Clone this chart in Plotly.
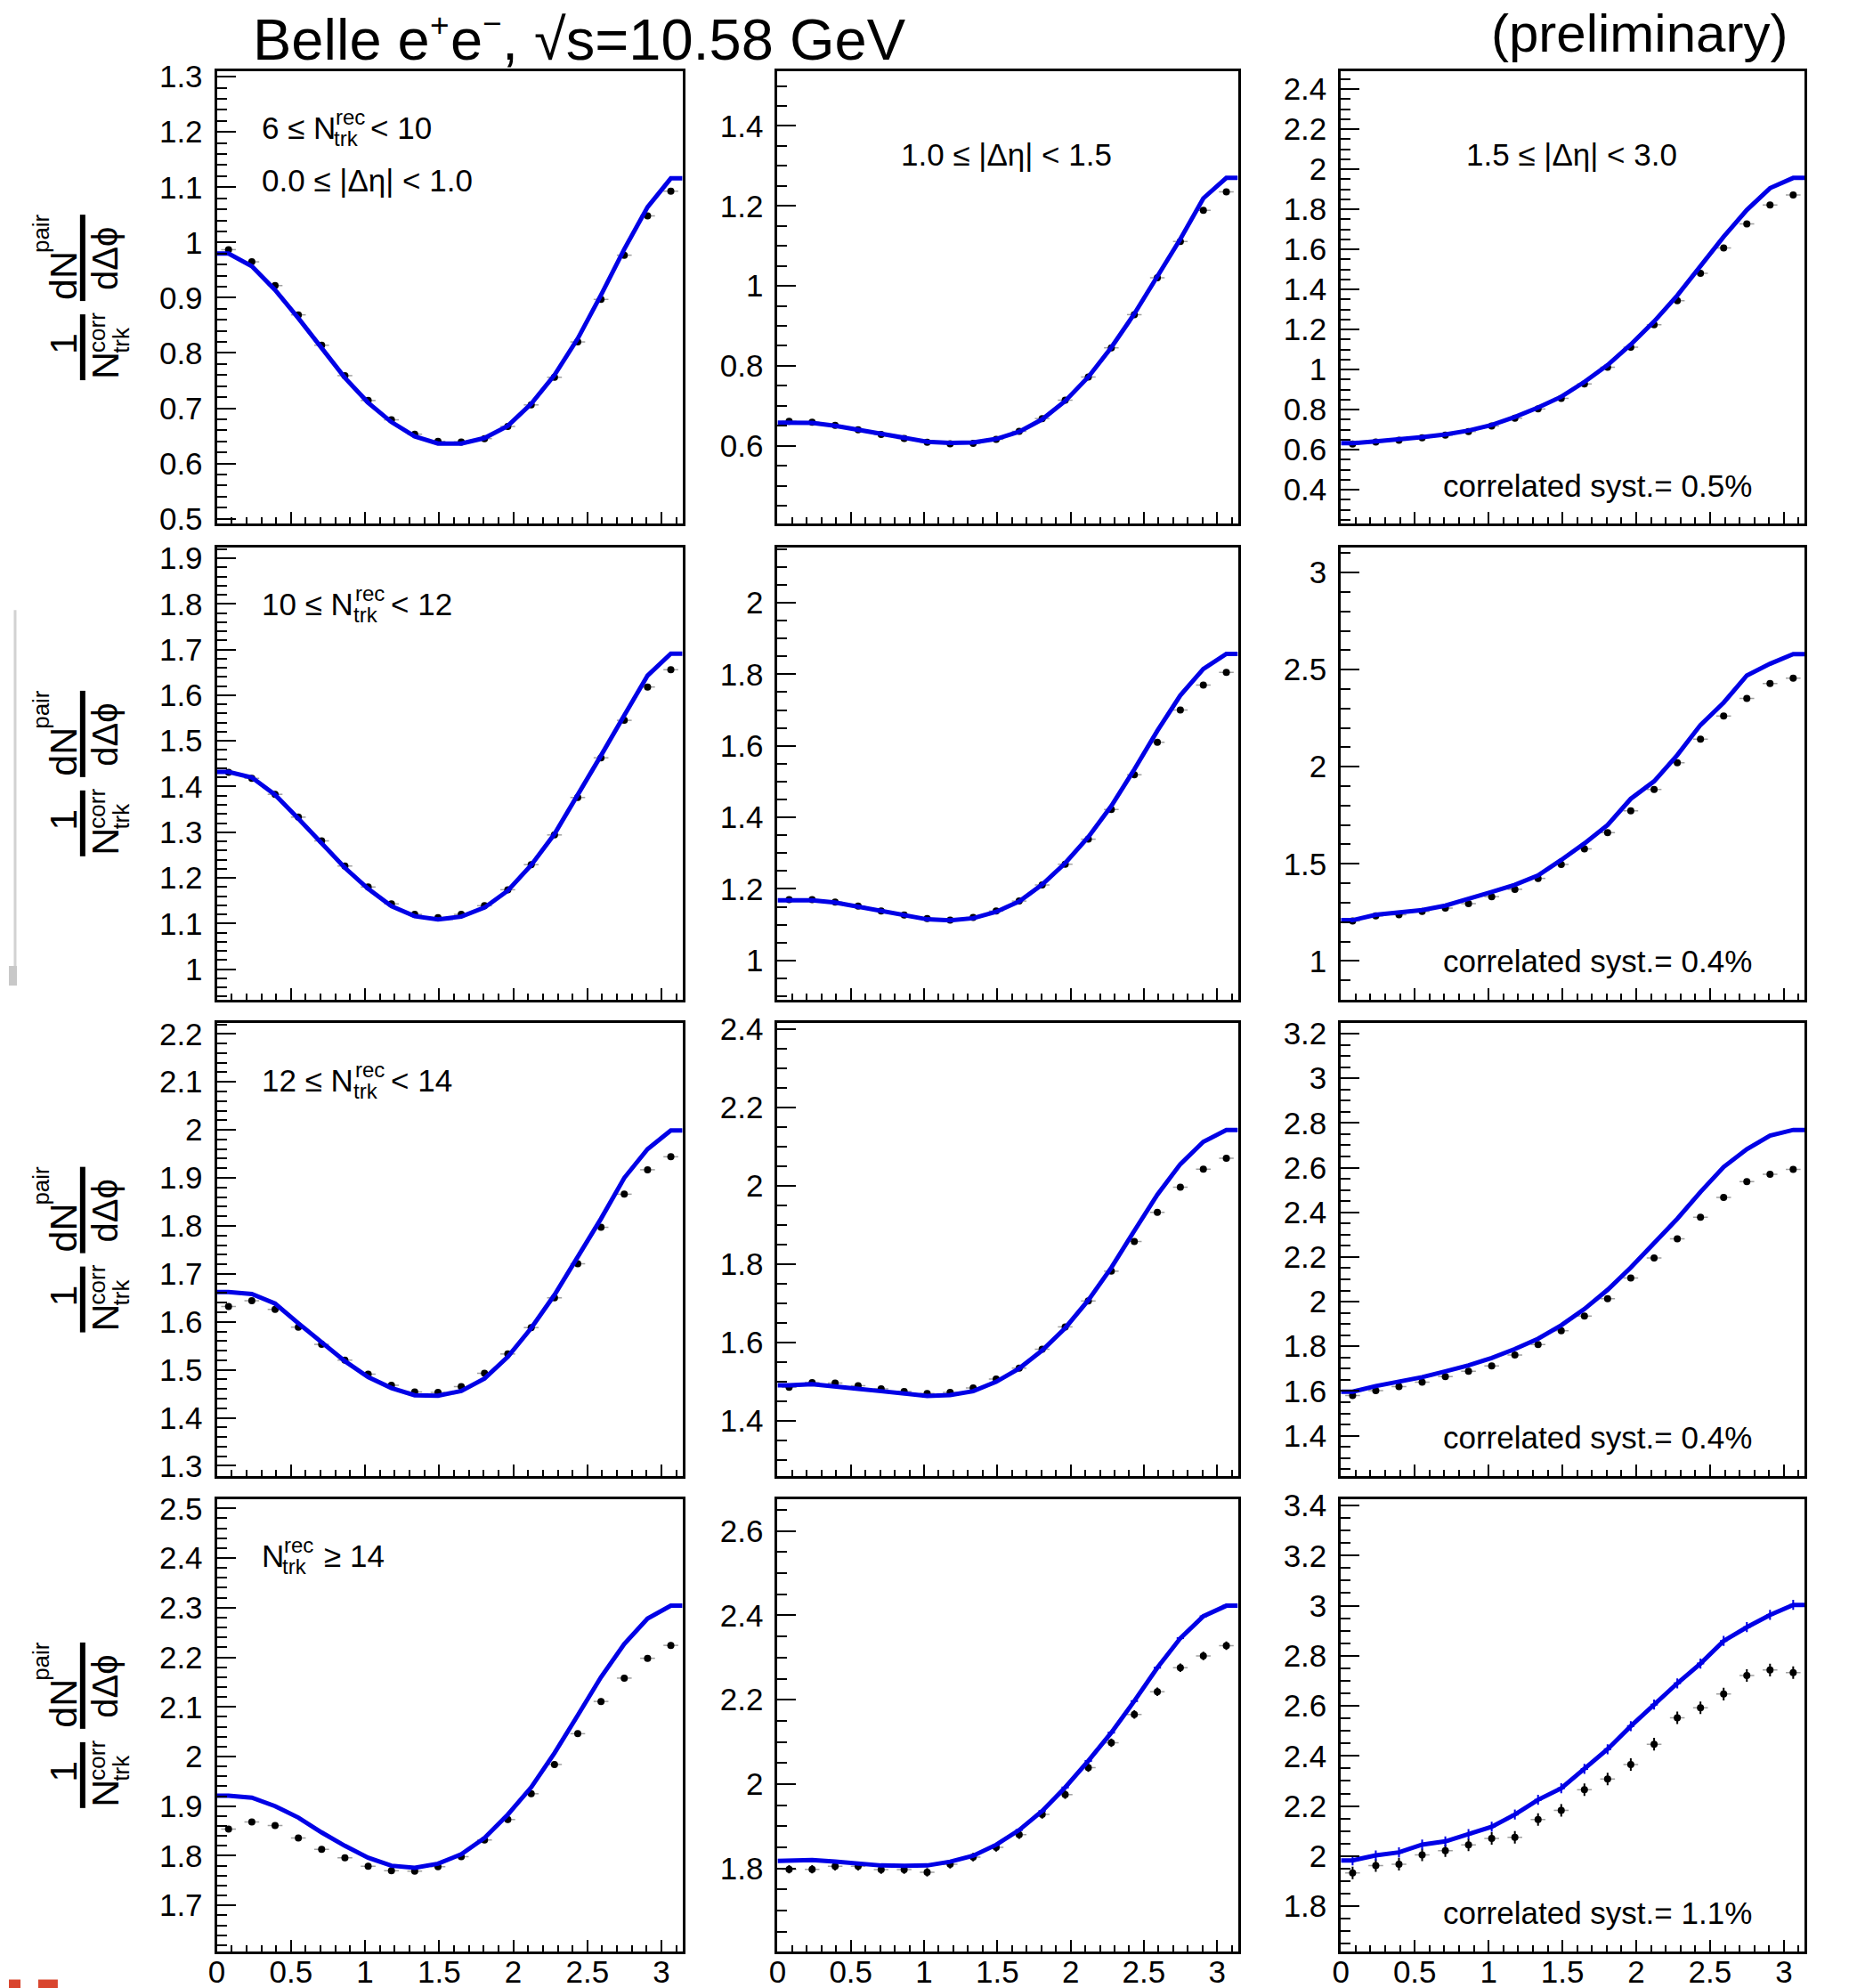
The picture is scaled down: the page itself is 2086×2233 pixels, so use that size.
import math
import plotly.graph_objects as go

PI = math.pi
FONT = "Liberation Sans"

# The photographed page ends up slightly offset and scaled relative to the
# figure (measured in earlier runs); positions below are given in the
# reference picture's pixels and mapped through this correction.
AX, SX = 7.0, 0.997
AY, SY = 11.5, 0.988
FW, FH = 2086, 2250

# ---------------- data ----------------
dphi = [0.079, 0.236, 0.393, 0.550, 0.707, 0.864, 1.021, 1.178, 1.335, 1.492,
        1.649, 1.806, 1.963, 2.121, 2.278, 2.435, 2.592, 2.749, 2.906, 3.063]

data_r1c1 = [0.987, 0.965, 0.922, 0.869, 0.814, 0.759, 0.714, 0.679, 0.653, 0.640,
             0.639, 0.645, 0.667, 0.706, 0.756, 0.820, 0.897, 0.977, 1.048, 1.093]
mc_r1c1 = [0.980, 0.957, 0.914, 0.863, 0.808, 0.755, 0.710, 0.675, 0.649, 0.636,
           0.636, 0.646, 0.668, 0.708, 0.760, 0.826, 0.905, 0.988, 1.064, 1.116]

data_r1c2 = [0.661, 0.659, 0.651, 0.640, 0.628, 0.618, 0.609, 0.605, 0.606, 0.616,
             0.636, 0.668, 0.714, 0.772, 0.845, 0.928, 1.020, 1.111, 1.189, 1.235]
mc_r1c2 = [0.658, 0.657, 0.650, 0.640, 0.628, 0.618, 0.610, 0.607, 0.608, 0.617,
           0.635, 0.666, 0.712, 0.772, 0.846, 0.930, 1.025, 1.117, 1.219, 1.270]

data_r1c3 = [0.628, 0.638, 0.647, 0.659, 0.672, 0.690, 0.718, 0.757, 0.803, 0.856,
             0.928, 1.011, 1.111, 1.224, 1.344, 1.481, 1.607, 1.727, 1.822, 1.872]
mc_r1c3 = [0.632, 0.641, 0.650, 0.662, 0.676, 0.695, 0.723, 0.763, 0.810, 0.864,
           0.938, 1.022, 1.125, 1.240, 1.370, 1.515, 1.663, 1.797, 1.906, 1.957]

data_r2c1 = [1.431, 1.418, 1.383, 1.333, 1.281, 1.226, 1.180, 1.143, 1.120, 1.113,
             1.120, 1.139, 1.174, 1.229, 1.294, 1.376, 1.463, 1.545, 1.618, 1.656]
mc_r2c1 = [1.432, 1.420, 1.382, 1.330, 1.277, 1.222, 1.176, 1.138, 1.116, 1.109,
           1.115, 1.135, 1.172, 1.228, 1.296, 1.380, 1.468, 1.556, 1.643, 1.691]

data_r2c2 = [1.170, 1.170, 1.163, 1.152, 1.138, 1.127, 1.117, 1.113, 1.120, 1.138,
             1.166, 1.211, 1.269, 1.339, 1.422, 1.519, 1.610, 1.700, 1.770, 1.805]
mc_r2c2 = [1.168, 1.168, 1.162, 1.150, 1.136, 1.124, 1.115, 1.112, 1.118, 1.136,
           1.165, 1.212, 1.272, 1.345, 1.432, 1.534, 1.642, 1.741, 1.815, 1.857]

data_r2c3 = [1.206, 1.232, 1.238, 1.255, 1.272, 1.295, 1.331, 1.369, 1.425, 1.497,
             1.577, 1.661, 1.773, 1.883, 2.020, 2.142, 2.261, 2.352, 2.428, 2.456]
mc_r2c3 = [1.210, 1.238, 1.252, 1.262, 1.285, 1.318, 1.355, 1.392, 1.440, 1.520,
           1.605, 1.700, 1.835, 1.925, 2.060, 2.215, 2.330, 2.470, 2.530, 2.580]

data_r3c1 = [1.632, 1.644, 1.626, 1.589, 1.553, 1.520, 1.491, 1.468, 1.454, 1.453,
             1.465, 1.493, 1.533, 1.588, 1.650, 1.721, 1.797, 1.866, 1.917, 1.944]
mc_r3c1 = [1.662, 1.658, 1.638, 1.597, 1.556, 1.518, 1.485, 1.462, 1.447, 1.446,
           1.456, 1.482, 1.527, 1.587, 1.656, 1.735, 1.815, 1.900, 1.960, 1.999]

data_r3c2 = [1.486, 1.498, 1.497, 1.490, 1.482, 1.475, 1.470, 1.473, 1.484, 1.507,
             1.535, 1.583, 1.640, 1.706, 1.782, 1.858, 1.932, 1.996, 2.042, 2.070]
mc_r3c2 = [1.491, 1.494, 1.489, 1.482, 1.476, 1.469, 1.464, 1.466, 1.476, 1.500,
           1.534, 1.580, 1.637, 1.708, 1.791, 1.885, 1.977, 2.055, 2.112, 2.142]

data_r3c3 = [1.580, 1.602, 1.620, 1.640, 1.664, 1.688, 1.712, 1.761, 1.808, 1.870,
             1.936, 2.013, 2.106, 2.196, 2.281, 2.378, 2.467, 2.537, 2.570, 2.592]
mc_r3c3 = [1.597, 1.622, 1.642, 1.662, 1.688, 1.715, 1.748, 1.788, 1.834, 1.894,
           1.967, 2.053, 2.153, 2.259, 2.371, 2.491, 2.603, 2.683, 2.743, 2.769]

data_r4c1 = [1.854, 1.868, 1.861, 1.836, 1.813, 1.796, 1.779, 1.770, 1.769, 1.778,
             1.798, 1.832, 1.873, 1.925, 1.984, 2.046, 2.111, 2.158, 2.198, 2.224]
mc_r4c1 = [1.921, 1.917, 1.900, 1.877, 1.847, 1.820, 1.796, 1.780, 1.776, 1.784,
           1.803, 1.836, 1.883, 1.938, 2.007, 2.083, 2.160, 2.227, 2.278, 2.304]

data_r4c2 = [1.798, 1.798, 1.805, 1.805, 1.797, 1.797, 1.791, 1.810, 1.827, 1.850,
             1.880, 1.928, 1.975, 2.039, 2.098, 2.165, 2.219, 2.276, 2.304, 2.328]
mc_r4c2 = [1.818, 1.820, 1.816, 1.811, 1.807, 1.806, 1.807, 1.816, 1.830, 1.856,
           1.891, 1.936, 1.992, 2.055, 2.122, 2.197, 2.276, 2.346, 2.398, 2.423]

data_r4c3 = [1.933, 1.962, 1.968, 2.005, 2.022, 2.045, 2.071, 2.075, 2.146, 2.183,
             2.265, 2.308, 2.366, 2.447, 2.552, 2.592, 2.647, 2.721, 2.743, 2.733]
mc_r4c3 = [1.983, 2.003, 2.015, 2.046, 2.059, 2.088, 2.117, 2.166, 2.225, 2.271,
           2.348, 2.427, 2.519, 2.605, 2.690, 2.769, 2.859, 2.914, 2.963, 3.003]

# statistical errors (data, model)
data_err = [[0.004, 0.004, 0.005], [0.004, 0.004, 0.006],
            [0.005, 0.006, 0.008], [0.006, 0.010, 0.025]]
mc_err = [[0.0, 0.0, 0.0], [0.0, 0.0, 0.0], [0.0, 0.0, 0.0], [0.0, 0.004, 0.02]]

data_grid = [[data_r1c1, data_r1c2, data_r1c3], [data_r2c1, data_r2c2, data_r2c3],
             [data_r3c1, data_r3c2, data_r3c3], [data_r4c1, data_r4c2, data_r4c3]]
mc_grid = [[mc_r1c1, mc_r1c2, mc_r1c3], [mc_r2c1, mc_r2c2, mc_r2c3],
           [mc_r3c1, mc_r3c2, mc_r3c3], [mc_r4c1, mc_r4c2, mc_r4c3]]

mult_lo = ["6 ≤ N", "10 ≤ N", "12 ≤ N", "N"]
mult_hi = ["< 10", "< 12", "< 14", "≥ 14"]
eta_labels = ["0.0 ≤ |Δη| < 1.0", "1.0 ≤ |Δη| < 1.5", "1.5 ≤ |Δη| < 3.0"]
syst_labels = ["correlated syst.= 0.5%", "correlated syst.= 0.4%",
               "correlated syst.= 0.4%", "correlated syst.= 1.1%"]
title_parts = ["Belle e", "+", "e", "−", ", √s=10.58 GeV"]

# ---------------- layout geometry (reference pixel coordinates) ----------------
col_px = [(241, 765), (872, 1390), (1506, 2028)]
row_px = [(77.5, 586), (612.5, 1121), (1147.5, 1656), (1682.5, 2190)]
yranges = [[(0.491, 1.310), (0.405, 1.537), (0.23, 2.49)],
           [(0.933, 1.924), (0.89, 2.155), (0.80, 3.13)],
           [(1.279, 2.222), (1.26, 2.414), (1.22, 3.246)],
           [(1.608, 2.518), (1.604, 2.675), (1.621, 3.424)]]
ydt = [[0.1, 0.2, 0.2], [0.1, 0.2, 0.5], [0.1, 0.2, 0.2], [0.1, 0.2, 0.2]]
ymn = [[0.02, 0.05, 0.05], [0.02, 0.05, 0.1], [0.02, 0.05, 0.05], [0.02, 0.05, 0.05]]

BLUE = "#0000e6"


def px(x):
    return max(0.0, (x - AX) / SX) / FW


def py(y):
    return 1 - min(FH, max(0.0, (y - AY) / SY)) / FH


fig = go.Figure()
layout = {}
annotations = []
shapes = []


def txt(x, y, s, size, xanchor="left", angle=0):
    annotations.append(dict(
        x=px(x), y=py(y), xref="paper", yref="paper", text=s, showarrow=False,
        xanchor=xanchor, yanchor="middle", textangle=angle, borderpad=0,
        font=dict(family=FONT, size=size, color="black")))


for r in range(4):
    for c in range(3):
        k = r * 3 + c + 1
        xa = "x" if k == 1 else f"x{k}"
        ya = "y" if k == 1 else f"y{k}"
        xkey = "xaxis" if k == 1 else f"xaxis{k}"
        ykey = "yaxis" if k == 1 else f"yaxis{k}"
        x0, x1 = col_px[c]
        y0, y1 = row_px[r]
        layout[xkey] = dict(
            domain=[px(x0), px(x1)], anchor=ya, range=[0, PI],
            showline=True, linecolor="black", linewidth=3, mirror=True,
            ticks="inside", ticklen=13, tickwidth=2, tickcolor="black",
            tick0=0, dtick=0.5,
            minor=dict(ticks="inside", ticklen=7, tickwidth=2, tickcolor="black", dtick=0.1),
            showgrid=False, zeroline=False, showticklabels=(r == 3),
            ticklabelstandoff=-10,
            tickfont=dict(family=FONT, size=35, color="black"))
        lo, hi = yranges[r][c]
        layout[ykey] = dict(
            domain=[py(y1), py(y0)], anchor=xa, range=[lo, hi],
            showline=True, linecolor="black", linewidth=3, mirror=True,
            ticks="inside", ticklen=21, tickwidth=2, tickcolor="black",
            tick0=0, dtick=ydt[r][c],
            minor=dict(ticks="inside", ticklen=11, tickwidth=2, tickcolor="black", dtick=ymn[r][c]),
            showgrid=False, zeroline=False, ticklabelstandoff=6,
            tickfont=dict(family=FONT, size=35, color="black"))

        d = data_grid[r][c]
        m = mc_grid[r][c]
        fig.add_trace(go.Scatter(
            x=dphi, y=d, mode="markers", xaxis=xa, yaxis=ya, showlegend=False,
            marker=dict(color="black", size=8),
            error_y=dict(type="constant", value=data_err[r][c], color="black", thickness=2, width=0),
            error_x=dict(type="constant", value=0.05, color="#a0a0a0", thickness=1.5, width=0)))
        fig.add_trace(go.Scatter(
            x=[0] + dphi + [PI], y=[m[0]] + m + [m[-1]], mode="lines",
            xaxis=xa, yaxis=ya, showlegend=False,
            line=dict(color=BLUE, width=5)))
        if mc_err[r][c] > 0:
            fig.add_trace(go.Scatter(
                x=dphi, y=m, mode="markers", xaxis=xa, yaxis=ya, showlegend=False,
                marker=dict(color=BLUE, size=1),
                error_y=dict(type="constant", value=mc_err[r][c], color=BLUE, thickness=2, width=0),
                error_x=dict(type="constant", value=0.025, color=BLUE, thickness=2, width=0)))

    # multiplicity label (stacked super/subscript)
    top = row_px[r][0]
    bot = row_px[r][1]
    f_main, f_small = 35, 24
    sup_x = [374, 396, 396, 316][r]
    hi_x = [413, 436, 436, 361][r]
    txt(291, top + 76 - 0.35 * f_main, mult_lo[r], f_main)
    txt(sup_x, top + 60 - 0.35 * f_small, "rec", f_small)
    txt(sup_x - 2, top + 84 - 0.35 * f_small, "trk", f_small)
    txt(hi_x, top + 76 - 0.35 * f_main, mult_hi[r], f_main)
    # correlated syst
    txt(1620, bot - 31 - 0.35 * 35, syst_labels[r], 35)

    # y-axis title: (1/N^corr_trk) dN^pair/dDphi, rotated
    cy = (top + bot) / 2
    shapes.append(dict(type="line", xref="paper", yref="paper", x0=px(90), x1=px(90),
                       y0=py(cy - 93), y1=py(cy + 4), line=dict(color="black", width=6)))
    shapes.append(dict(type="line", xref="paper", yref="paper", x0=px(90), x1=px(90),
                       y0=py(cy + 19), y1=py(cy + 93), line=dict(color="black", width=6)))
    txt(68, cy - 25, "dN", 43, "center", -90)
    txt(43, cy - 72, "pair", 26, "center", -90)
    txt(115, cy - 44, "dΔϕ", 40, "center", -90)
    txt(68, cy + 52, "1", 43, "center", -90)
    txt(115, cy + 76, "N", 43, "center", -90)
    txt(106, cy + 39, "corr", 26, "center", -90)
    txt(133, cy + 48, "trk", 26, "center", -90)

# eta-range labels (top row)
f_eta = 35
txt(291, 76.7 + 136 - 0.35 * f_eta, eta_labels[0], f_eta)
txt(1130, 183 - 0.35 * f_eta, eta_labels[1], f_eta, "center")
txt(1766, 183 - 0.35 * f_eta, eta_labels[2], f_eta, "center")

# title (pieces so the charge superscripts sit like the original) and preliminary
T_BASE, T_F = 65, 65
txt(280, T_BASE - 0.35 * T_F, title_parts[0], T_F)
txt(480, 26, title_parts[1], 37)
txt(503, T_BASE - 0.35 * T_F, title_parts[2], T_F)
txt(539, 24, title_parts[3], 37)
txt(561, T_BASE - 0.35 * T_F, title_parts[4], T_F)
txt(2010, 35, "(preliminary)", 60, "right")

# screenshot artefacts at the left edge
shapes.append(dict(type="line", xref="paper", yref="paper", x0=px(14), x1=px(14),
                   y0=py(683), y1=py(1085), line=dict(color="#d2d2d2", width=3)))
shapes.append(dict(type="rect", xref="paper", yref="paper", x0=px(0), x1=px(16),
                   y0=py(1105), y1=py(1083), fillcolor="#c8c8c8", line=dict(width=0)))
shapes.append(dict(type="rect", xref="paper", yref="paper", x0=px(4), x1=px(20),
                   y0=py(2233), y1=py(2222), fillcolor="#d9452e", line=dict(width=0)))
shapes.append(dict(type="rect", xref="paper", yref="paper", x0=px(40), x1=px(62),
                   y0=py(2233), y1=py(2222), fillcolor="#d9452e", line=dict(width=0)))

layout.update(dict(
    width=FW, height=FH, autosize=False,
    margin=dict(l=0, r=0, t=0, b=0),
    paper_bgcolor="white", plot_bgcolor="white",
    annotations=annotations, shapes=shapes,
    font=dict(family=FONT, color="black"),
))
fig.update_layout(**layout)
fig.write_html("out.html")
